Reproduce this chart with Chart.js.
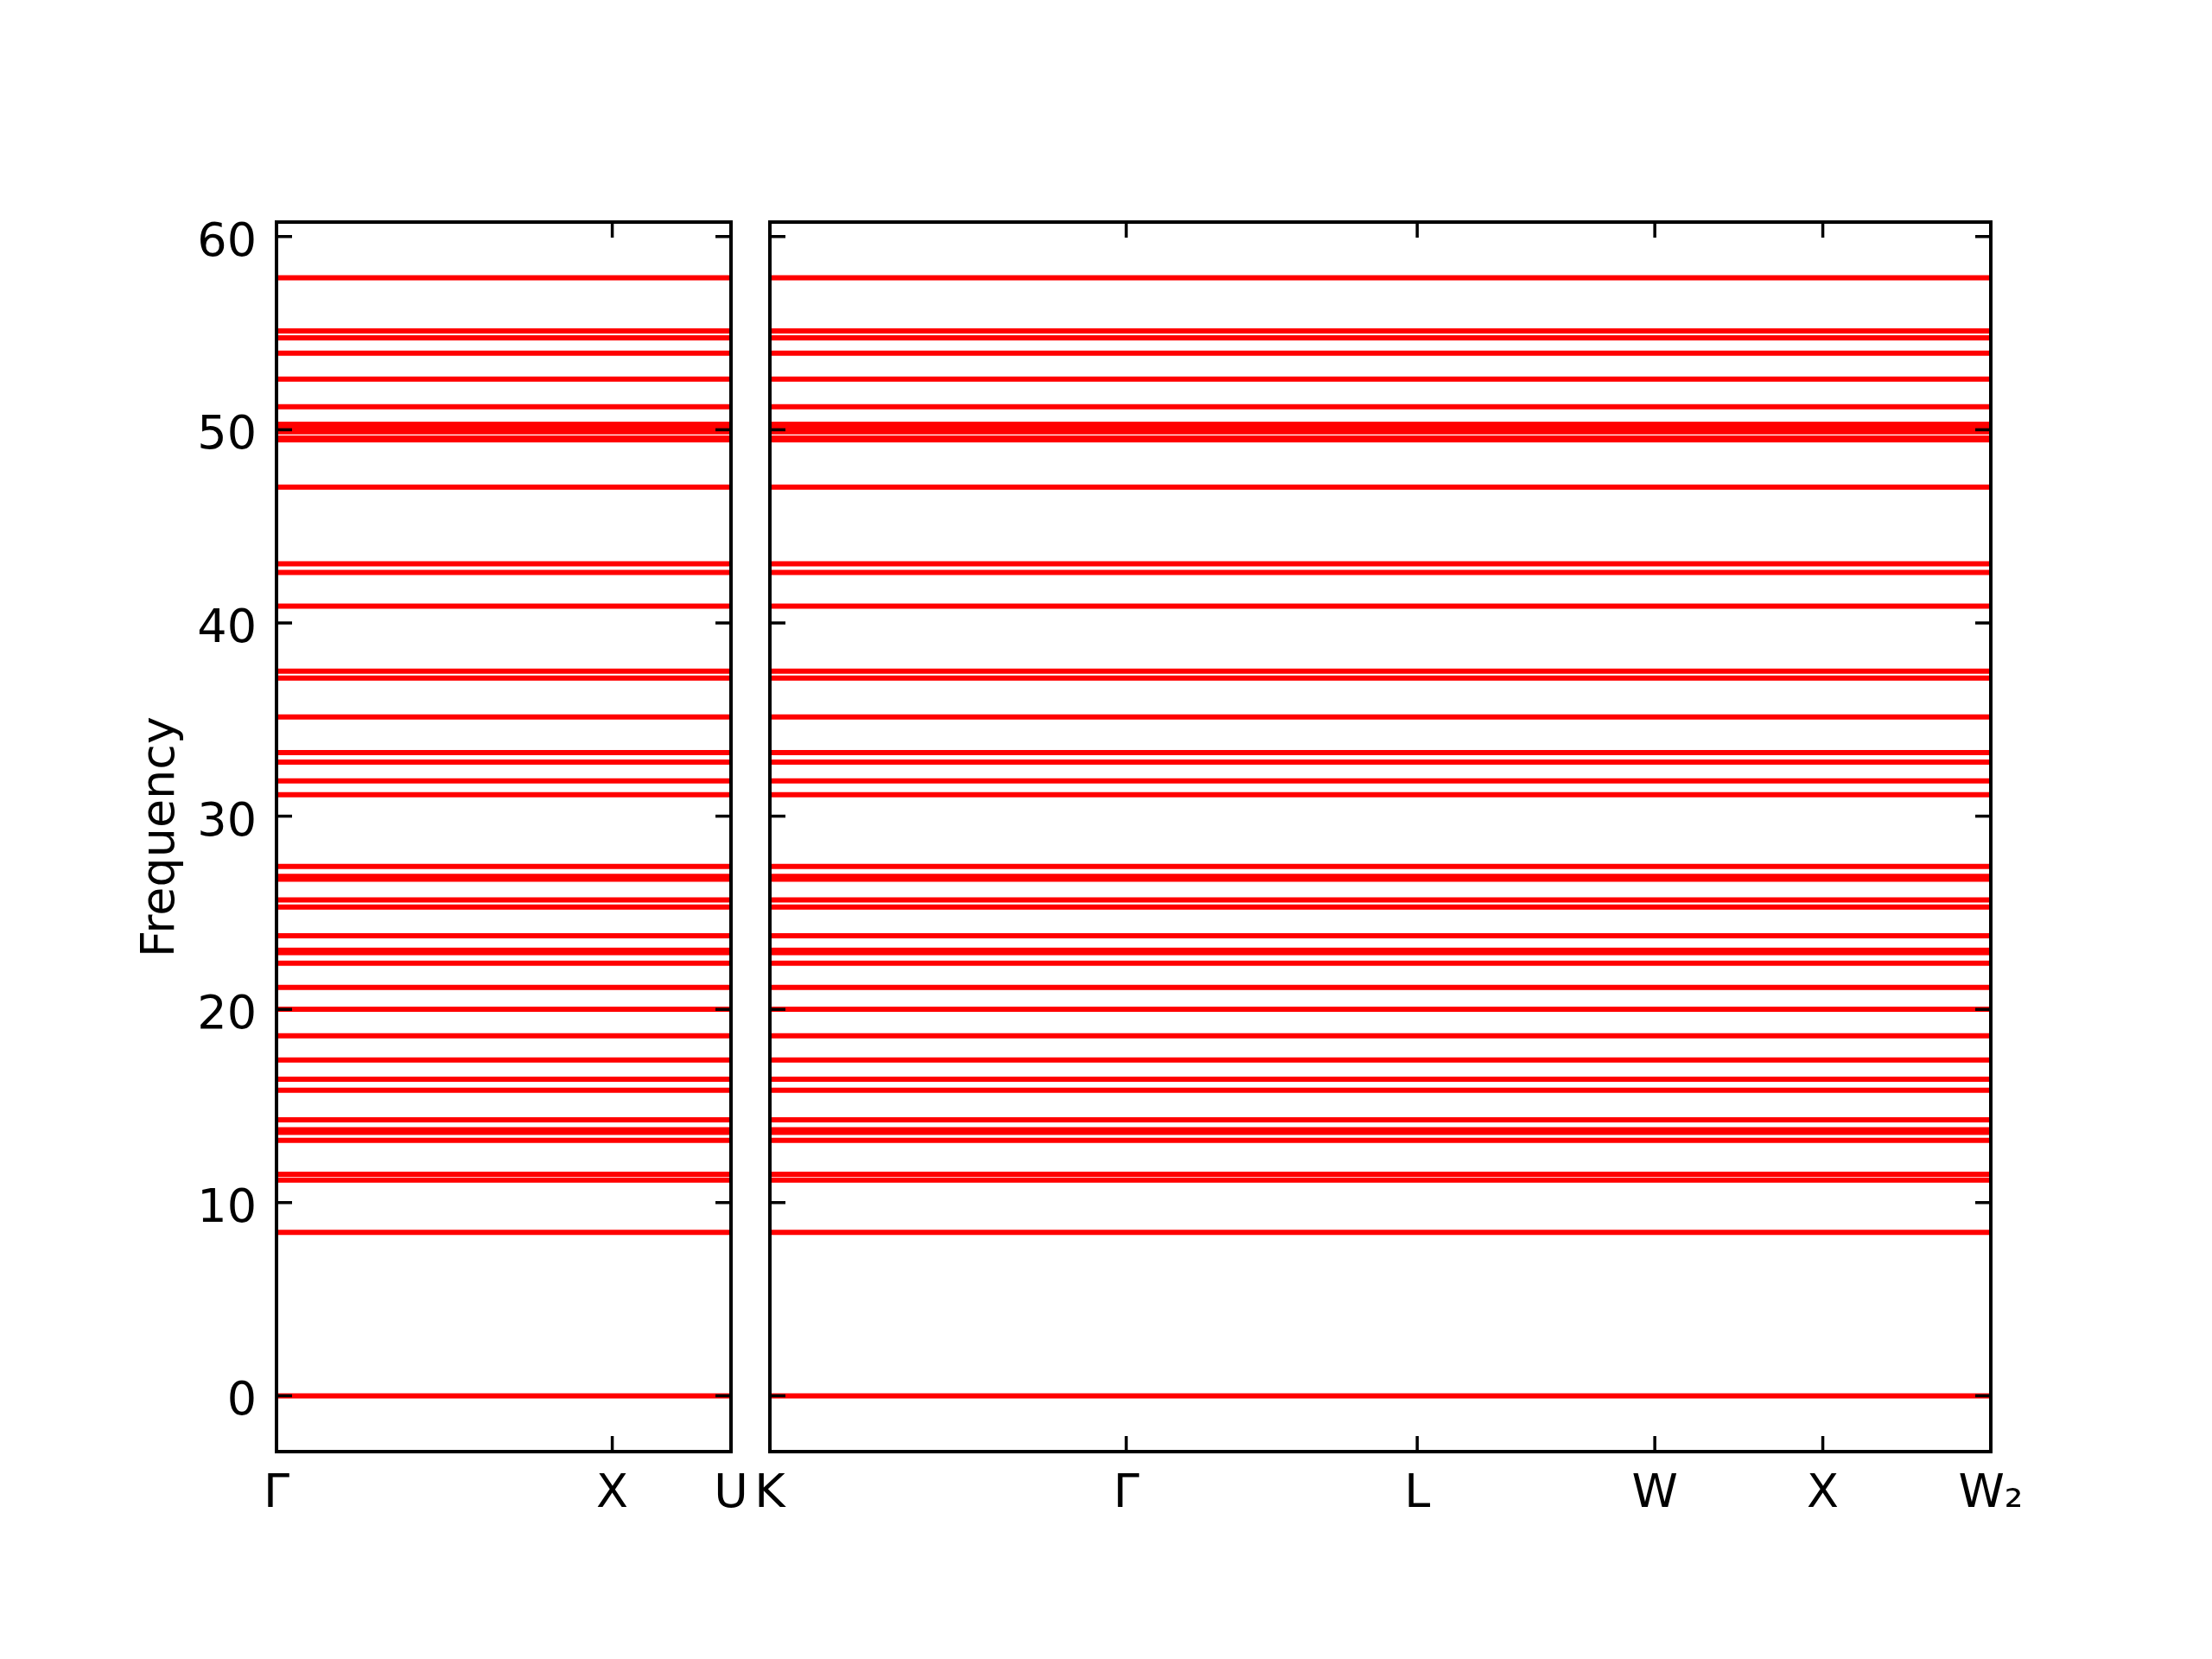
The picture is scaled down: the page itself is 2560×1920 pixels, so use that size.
<!DOCTYPE html>
<html>
<head>
<meta charset="utf-8">
<script src="https://cdn.jsdelivr.net/npm/chart.js@4.4.1/dist/chart.umd.min.js"></script>
<style>
  html, body { margin: 0; padding: 0; background: #fff; }
  #wrap { position: relative; width: 2560px; height: 1920px; }
  canvas { position: absolute; left: 0; top: 0; }
</style>
</head>
<body>
<div id="wrap">
  <canvas id="left" width="2560" height="1920"></canvas>
  <canvas id="right" width="2560" height="1920"></canvas>
</div>
<script>
// flat phonon bands, frequencies
var bandFreqs = [0.0, 8.46, 11.16, 11.47, 13.22, 13.63, 13.77, 14.28, 15.81, 16.38,
  17.38, 18.63, 20.01, 21.14, 22.39, 22.94, 23.06, 23.81, 25.30, 25.66,
  26.74, 26.88, 27.40, 31.11, 31.83, 32.80, 33.29, 35.13, 37.15, 37.51,
  40.87, 42.61, 43.06, 47.03, 49.48, 49.57, 49.89, 50.09, 50.29, 51.19,
  52.62, 53.96, 54.76, 55.12, 57.86];

// high symmetry points (path distance) and their labels
var leftKpts = [0, 1.0, 1.3536];
var leftLabels = ['Γ', 'X', 'U'];
var rightKpts = [1.3536, 2.4142, 3.2802, 3.9873, 4.4873, 4.9873];
var rightLabels = ['K', 'Γ', 'L', 'W', 'X', 'W₂'];

var yTicks = [0, 10, 20, 30, 40, 50, 60];
var yMin = -2.89, yMax = 60.75;

var fontFam = 'DejaVu Sans';

function bandSets(kpts) {
  return bandFreqs.map(function(f) {
    return {
      data: kpts.map(function(k) { return {x: k, y: f}; }),
      borderColor: '#ff0000',
      borderWidth: 6,
      pointRadius: 0,
      showLine: true,
      fill: false,
      tension: 0
    };
  });
}

// box around the axes and inward ticks on all four sides
var framePlugin = {
  id: 'frame',
  afterDraw: function(chart, args, opts) {
    var ctx = chart.ctx, a = chart.chartArea;
    var xs = chart.scales.x, ys = chart.scales.y;
    var tl = 18;
    function seg(x1, y1, x2, y2) {
      ctx.beginPath(); ctx.moveTo(x1, y1); ctx.lineTo(x2, y2); ctx.stroke();
    }
    ctx.save();
    ctx.strokeStyle = '#000';
    ctx.lineWidth = 3.5;
    opts.kpts.forEach(function(k) {
      var px = xs.getPixelForValue(k);
      seg(px, a.bottom, px, a.bottom - tl);
      seg(px, a.top, px, a.top + tl);
    });
    yTicks.forEach(function(v) {
      var py = ys.getPixelForValue(v);
      seg(a.left, py, a.left + tl, py);
      seg(a.right, py, a.right - tl, py);
    });
    ctx.lineWidth = 4;
    ctx.strokeRect(a.left, a.top, a.right - a.left, a.bottom - a.top);
    ctx.restore();
  }
};

function xScale(kpts, labels) {
  return {
    type: 'linear',
    min: kpts[0],
    max: kpts[kpts.length - 1],
    afterBuildTicks: function(s) {
      s.ticks = kpts.map(function(v) { return {value: v}; });
    },
    afterFit: function(s) { s.height = 150; },
    ticks: {
      callback: function(v, i) { return labels[i]; },
      autoSkip: false, maxRotation: 0, minRotation: 0,
      color: '#000', padding: 18,
      font: {family: fontFam, size: 54}
    },
    grid: {display: false, drawTicks: false},
    border: {display: false}
  };
}

var baseOpts = {
  responsive: false,
  animation: false,
  devicePixelRatio: 1,
  events: []
};

new Chart(document.getElementById('left'), {
  type: 'scatter',
  data: {datasets: bandSets(leftKpts)},
  plugins: [framePlugin],
  options: Object.assign({}, baseOpts, {
    layout: {padding: {left: 0, top: 257, right: 2560 - 846, bottom: 90}},
    plugins: {legend: {display: false}, tooltip: {enabled: false}, frame: {kpts: leftKpts}},
    scales: {
      x: xScale(leftKpts, leftLabels),
      y: {
        type: 'linear', min: yMin, max: yMax,
        afterBuildTicks: function(s) {
          s.ticks = yTicks.map(function(v) { return {value: v}; });
        },
        afterFit: function(s) { s.width = 320; },
        ticks: {color: '#000', padding: 23, labelOffset: 8, font: {family: fontFam, size: 54}},
        grid: {display: false, drawTicks: false},
        border: {display: false},
        title: {
          display: true, text: 'Frequency', color: '#000',
          font: {family: fontFam, size: 54},
          padding: {top: 155, bottom: 0}
        }
      }
    }
  })
});

new Chart(document.getElementById('right'), {
  type: 'scatter',
  data: {datasets: bandSets(rightKpts)},
  plugins: [framePlugin],
  options: Object.assign({}, baseOpts, {
    layout: {padding: {left: 891, top: 257, right: 2560 - 2304, bottom: 90}},
    plugins: {legend: {display: false}, tooltip: {enabled: false}, frame: {kpts: rightKpts}},
    scales: {
      x: xScale(rightKpts, rightLabels),
      y: {type: 'linear', min: yMin, max: yMax, display: false}
    }
  })
});
</script>
</body>
</html>
